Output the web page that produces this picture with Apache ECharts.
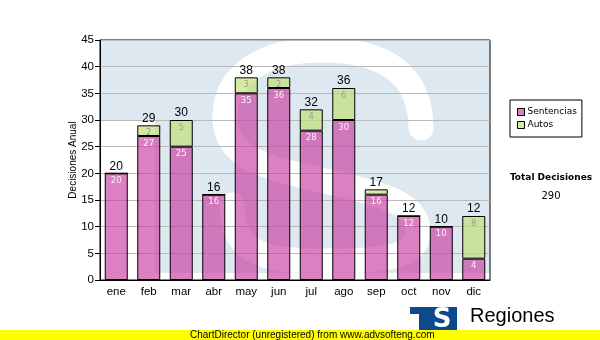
<!DOCTYPE html>
<html>
<head>
<meta charset="utf-8">
<script src="https://cdn.jsdelivr.net/npm/echarts@6/dist/echarts.min.js"></script>
<style>
  html, body { margin: 0; padding: 0; background: #fff; }
  #chart { width: 600px; height: 340px; }
</style>
</head>
<body>
<div id="chart"></div>
<script>
// Monthly decisions, split into judgments and orders
const months = ['ene', 'feb', 'mar', 'abr', 'may', 'jun', 'jul', 'ago', 'sep', 'oct', 'nov', 'dic'];
const sentencias = [20, 27, 25, 16, 35, 36, 28, 30, 16, 12, 10, 4];
const autos = [0, 2, 5, 0, 3, 2, 4, 6, 1, 0, 0, 8];
const yMin = 0, yMax = 45, yStep = 5;

const totals = months.map((m, i) => sentencias[i] + autos[i]);
const grandTotal = totals.reduce((a, b) => a + b, 0);

const ARIAL = '"Liberation Sans", Arial, sans-serif';
const VERDANA = '"DejaVu Sans", Verdana, sans-serif';

// cubic pieces of the emblem "S" drawn behind the plot: [x1,y1, c1x,c1y, c2x,c2y, x2,y2]
const emblemCurves = [
  [421, 128, 421, 75, 385, 50, 322, 50],
  [322, 50, 262, 50, 225, 75, 225, 118],
  [225, 118, 225, 162, 278, 170, 330, 182],
  [330, 182, 390, 196, 418, 205, 418, 232],
  [418, 232, 418, 258, 380, 261, 330, 261],
  [330, 261, 270, 261, 232, 258, 232, 205]
];
const emblemElements = emblemCurves.map(c => ({
  type: 'bezierCurve', z: -2,
  shape: { x1: c[0], y1: c[1], cpx1: c[2], cpy1: c[3], cpx2: c[4], cpy2: c[5], x2: c[6], y2: c[7] },
  style: { fill: null, stroke: '#ffffff', lineWidth: 25, lineCap: 'round' }
}));

const chart = echarts.init(document.getElementById('chart'), null, { renderer: 'canvas' });

chart.setOption({
  animation: false,
  backgroundColor: '#ffffff',
  grid: {
    left: 100, right: 110, top: 40, bottom: 60,
    show: true, borderColor: '#000', borderWidth: 1, backgroundColor: 'transparent'
  },
  legend: {
    data: ['Sentencias', 'Autos'],
    orient: 'vertical',
    left: 510, top: 100,
    padding: [7, 5, 7, 7],
    itemWidth: 7, itemHeight: 7, itemGap: 3,
    icon: 'rect',
    borderColor: '#000', borderWidth: 1, backgroundColor: '#fff',
    itemStyle: { borderColor: '#000', borderWidth: 1 },
    textStyle: { fontFamily: VERDANA, fontSize: 9, color: '#000', lineHeight: 10, padding: [0, 0, 0, -2] }
  },
  xAxis: {
    type: 'category',
    data: months,
    axisLine: { lineStyle: { color: '#000', width: 1 } },
    axisTick: { alignWithLabel: true, length: 5, lineStyle: { color: '#000' } },
    axisLabel: { color: '#000', fontFamily: ARIAL, fontSize: 11.5, margin: 6 }
  },
  yAxis: {
    type: 'value',
    min: yMin, max: yMax, interval: yStep,
    name: 'Decisiones Anual',
    nameLocation: 'middle',
    nameGap: 22,
    nameMoveOverlap: false,
    nameTextStyle: { color: '#000', fontFamily: ARIAL, fontSize: 10 },
    axisLine: { show: true, lineStyle: { color: '#000', width: 1 } },
    axisTick: { show: true, length: 5, lineStyle: { color: '#000' } },
    axisLabel: { color: '#000', fontFamily: ARIAL, fontSize: 11.5, margin: 6 },
    splitLine: { lineStyle: { color: '#b9b9b9', width: 1 } }
  },
  series: [
    {
      name: 'Sentencias',
      type: 'bar',
      stack: 'dec',
      barWidth: 23,
      data: sentencias,
      itemStyle: { color: 'rgba(200,60,160,0.65)', borderColor: '#000', borderWidth: 1 },
      label: {
        show: true, position: 'insideTop', distance: 3,
        color: 'rgba(255,255,255,0.9)', fontFamily: VERDANA, fontSize: 8.5
      }
    },
    {
      name: 'Autos',
      type: 'bar',
      stack: 'dec',
      barWidth: 23,
      data: autos,
      itemStyle: { color: 'rgba(190,225,110,0.65)', borderColor: '#000', borderWidth: 1 },
      label: {
        show: true, position: 'insideTop', distance: 3,
        color: '#9a9a9a', fontFamily: VERDANA, fontSize: 8.5,
        formatter: p => (p.value >= 2 ? String(p.value) : '')
      }
    },
    {
      // zero-height cap carrying the month total above each stack
      name: 'Total',
      type: 'bar',
      stack: 'dec',
      barWidth: 23,
      data: months.map(() => 0),
      itemStyle: { color: 'transparent', borderWidth: 0 },
      label: {
        show: true, position: 'top', distance: 1,
        color: '#000', fontFamily: ARIAL, fontSize: 12,
        formatter: p => String(totals[p.dataIndex])
      },
      silent: true
    }
  ],
  graphic: {
    elements: [
      // tinted plot backdrop
      {
        type: 'polygon', z: -3,
        shape: { points: [[100, 40], [490, 40], [490, 273], [155, 273], [155, 120], [100, 120]] },
        style: { fill: '#dee8f1' }
      },
      ...emblemElements,
      // total box on the right
      {
        type: 'text',
        style: {
          text: 'Total Decisiones', x: 551, y: 178, fill: '#000',
          fontFamily: VERDANA, fontWeight: 'bold', fontSize: 9,
          textAlign: 'center', textVerticalAlign: 'middle'
        }
      },
      {
        type: 'text',
        style: {
          text: String(grandTotal), x: 551, y: 196, fill: '#000',
          fontFamily: VERDANA, fontSize: 10,
          textAlign: 'center', textVerticalAlign: 'middle'
        }
      },
      // footer logo
      { type: 'rect', shape: { x: 410, y: 307, width: 47, height: 25 }, style: { fill: '#0d4a8c' } },
      { type: 'rect', shape: { x: 410, y: 314, width: 9, height: 18 }, style: { fill: '#ffffff' } },
      {
        type: 'text',
        style: {
          text: 'S', x: 442, y: 320, fill: '#ffffff',
          fontFamily: VERDANA, fontWeight: 'bold', fontSize: 26,
          textAlign: 'center', textVerticalAlign: 'middle'
        }
      },
      {
        type: 'text',
        style: {
          text: 'Regiones', x: 470, y: 316, fill: '#000',
          fontFamily: ARIAL, fontSize: 20,
          textAlign: 'left', textVerticalAlign: 'middle'
        }
      },
      // watermark band
      { type: 'rect', shape: { x: 0, y: 330, width: 600, height: 10 }, style: { fill: '#ffff00' } },
      {
        type: 'text',
        style: {
          text: 'ChartDirector (unregistered) from www.advsofteng.com', x: 190, y: 335.5, fill: '#000',
          fontFamily: ARIAL, fontSize: 10,
          textAlign: 'left', textVerticalAlign: 'middle'
        }
      }
    ]
  }
});
</script>
</body>
</html>
